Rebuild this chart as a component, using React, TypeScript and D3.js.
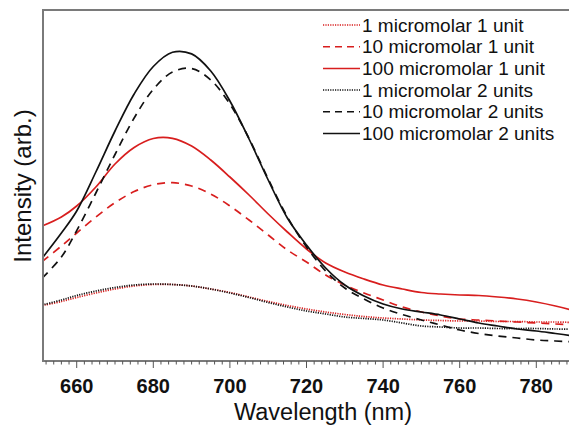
import React from 'react'
import * as d3 from 'd3'

// wavelength grid (nm) the curves were read on
const wavelengths = [651, 656, 660, 665, 670, 675, 680, 685, 690, 695, 700, 705, 710, 715, 720, 725, 730, 735, 740, 745, 750, 755, 760, 765, 770, 775, 780, 785, 790]

// intensities (arb.)
const red1 = [55.5, 59.5, 63.5, 68, 72, 75, 76.5, 76.5, 75, 72, 68.5, 64, 59.5, 55.5, 52, 49, 46.5, 44.5, 43, 42, 41, 40.5, 40, 40, 39.5, 39.5, 39, 39, 38.5]
const red10 = [99.5, 115, 128, 144, 158.3, 169.4, 176.3, 178.3, 175, 167, 155, 141, 126, 111, 99, 86, 76, 68, 61, 54, 49, 45, 42, 41, 40, 39, 38, 37, 36]
const red100 = [135, 144, 155, 174, 197, 213.5, 222.5, 222.7, 215, 201, 184, 166, 147, 129, 112, 98, 89, 82, 76, 72, 68.5, 67, 66, 65.5, 64, 62, 59, 55, 50]
const black1 = [56, 61, 65.5, 70, 73.5, 76, 77, 76.5, 75, 72, 68, 63.5, 58.5, 54, 50, 47, 44, 42.5, 41, 38, 35, 34, 33, 33, 32.5, 32.5, 32.5, 32, 32]
const black10 = [83, 104, 130.4, 168, 206.5, 243, 271.7, 289, 292.5, 281, 257, 222.5, 182, 144, 114, 90, 73, 62, 53, 46.5, 41, 36, 31, 27.5, 25, 23, 21, 20, 19]
const black100 = [103, 128, 150, 189, 230, 267, 294.5, 308.7, 307.1, 290, 260, 222, 181, 143, 116, 93, 76, 65, 57, 52, 49, 46, 42, 38, 35, 32, 30, 27.5, 25]

const xTicks = [660, 680, 700, 720, 740, 760, 780]

const series = [
  {name: '1 micromolar 1 unit', values: red1, color: '#d81e1e', dash: '1.2,1.2'},
  {name: '10 micromolar 1 unit', values: red10, color: '#d81e1e', dash: '8,6'},
  {name: '100 micromolar 1 unit', values: red100, color: '#d81e1e', dash: null},
  {name: '1 micromolar 2 units', values: black1, color: '#111', dash: '1.2,1.2'},
  {name: '10 micromolar 2 units', values: black10, color: '#111', dash: '8,6'},
  {name: '100 micromolar 2 units', values: black100, color: '#111', dash: null},
]

const W = 569
const H = 431
const left = 43
const top = 10
const bottom = 361

export default function App() {
  const x = d3.scaleLinear().domain([651.2, 800]).range([left, 612.9])
  const y = d3.scaleLinear().domain([0, 351]).range([bottom, top])

  const line = d3
    .line<number>()
    .x((d, i) => x(wavelengths[i]))
    .y((d) => y(d))
    .curve(d3.curveCatmullRom.alpha(0.5))

  const minor = d3.range(652, 800, 2).filter((t) => t % 20 !== 0)
  const font = "'Liberation Sans', Arial, sans-serif"

  return (
    <svg width={W} height={H} style={{position: 'absolute', left: 0, top: 0, background: '#fff'}}>
      <defs>
        <clipPath id="plot">
          <rect x={left} y={top} width={W - left} height={bottom - top} />
        </clipPath>
      </defs>

      <g clipPath="url(#plot)" fill="none" strokeWidth={1.7}>
        {series.map((s) => (
          <path key={s.name} d={line(s.values) || ''} stroke={s.color} strokeDasharray={s.dash || undefined} />
        ))}
      </g>

      {/* frame */}
      <path d={`M${W},${top}H${left}V${bottom}H${W}`} fill="none" stroke="#7a7a7a" strokeWidth={2} />

      {/* x ticks */}
      <g stroke="#555" strokeWidth={1}>
        {minor.map((t) => (
          <line key={t} x1={x(t)} x2={x(t)} y1={bottom} y2={bottom + 3.5} />
        ))}
        {xTicks.map((t) => (
          <line key={t} x1={x(t)} x2={x(t)} y1={bottom} y2={bottom + 7} />
        ))}
      </g>
      <g fontFamily={font} fontWeight="bold" fontSize={20} textAnchor="middle" fill="#111">
        {xTicks.map((t) => (
          <text key={t} x={x(t)} y={393}>
            {t}
          </text>
        ))}
      </g>

      <text x={323} y={420} fontFamily={font} fontSize={23.5} textAnchor="middle" fill="#111">
        Wavelength (nm)
      </text>
      <text transform="translate(31,186) rotate(-90)" fontFamily={font} fontSize={24} textAnchor="middle" fill="#111">
        Intensity (arb.)
      </text>

      {/* legend */}
      <g fontFamily={font} fontSize={19} fill="#111">
        {series.map((s, i) => {
          const ly = 25 + i * 21.7
          return (
            <g key={s.name}>
              <line x1={323} x2={360} y1={ly} y2={ly} stroke={s.color} strokeWidth={1.5} strokeDasharray={s.dash === '8,6' ? '7,5' : s.dash || undefined} />
              <text x={362} y={ly} dominantBaseline="central">
                {s.name}
              </text>
            </g>
          )
        })}
      </g>
    </svg>
  )
}
